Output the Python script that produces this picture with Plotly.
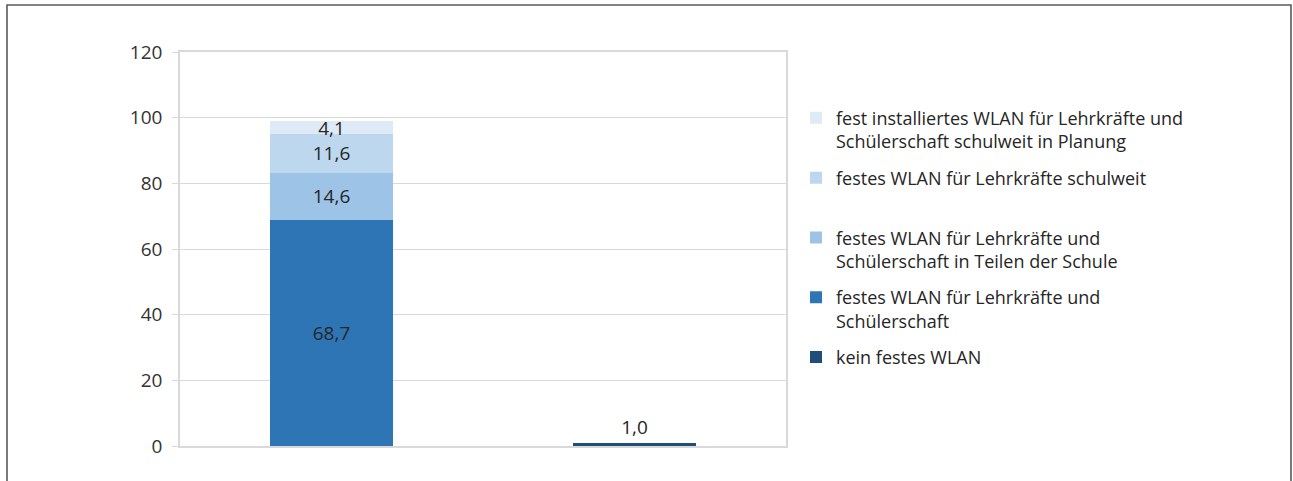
import plotly.graph_objects as go

# Two columns: schools with some form of fixed WLAN, and schools without it
categories = ["mit festem WLAN", "ohne festes WLAN"]

series_names = [
    "kein festes WLAN",
    "festes WLAN für Lehrkräfte und<br>Schülerschaft",
    "festes WLAN für Lehrkräfte und<br>Schülerschaft in Teilen der Schule",
    "festes WLAN für Lehrkräfte schulweit<br> ",
    "fest installiertes WLAN für Lehrkräfte und<br>Schülerschaft schulweit in Planung",
]
kein_festes = [None, 1.0]
lehrkraefte_schuelerschaft = [68.7, None]
teile_der_schule = [14.6, None]
lehrkraefte_schulweit = [11.6, None]
in_planung = [4.1, None]

series_values = [
    kein_festes,
    lehrkraefte_schuelerschaft,
    teile_der_schule,
    lehrkraefte_schulweit,
    in_planung,
]
colors = ["#1F4E79", "#2E75B6", "#9DC3E6", "#BDD7EE", "#DEEBF7"]
text_positions = ["outside", "inside", "inside", "inside", "inside"]
legend_ranks = [5, 4, 3, 2, 1]

y_ticks = [0, 20, 40, 60, 80, 100, 120]

label_font = dict(family="Open Sans, sans-serif", size=19, color="#262626")

fig = go.Figure()
for i, (name, vals, col, pos, rank) in enumerate(
        zip(series_names, series_values, colors, text_positions, legend_ranks)):
    fig.add_trace(go.Bar(
        x=categories,
        y=vals,
        name=name,
        legendgroup=f"g{i}",
        legendrank=rank,
        marker=dict(color=col, line=dict(width=0)),
        texttemplate="%{y:.1f}",
        textposition=pos,
        insidetextanchor="middle",
        constraintext="none",
        cliponaxis=False,
        textfont=label_font,
        insidetextfont=label_font,
        outsidetextfont=label_font,
        hoverinfo="skip",
    ))

# outer frame around the chart (open at the bottom)
L, R, T, B = -0.2855, 1.8333, 1.1193, -0.12
fig.add_shape(
    type="path", xref="paper", yref="paper",
    path=f"M {L},{B} L {L},{T} L {R},{T} L {R},{B}",
    line=dict(color="#595959", width=1.6),
)

fig.update_layout(
    width=1293, height=481,
    barmode="stack",
    bargap=0.597,
    separators=",.",
    paper_bgcolor="white",
    plot_bgcolor="white",
    margin=dict(l=180, r=507, t=52, b=35),
    showlegend=True,
    legend=dict(
        x=1.0165, xanchor="left", y=0.879, yanchor="top",
        traceorder="grouped",
        tracegroupgap=10,
        valign="top",
        font=dict(family="Open Sans, sans-serif", size=18, color="#262626"),
        bgcolor="rgba(0,0,0,0)",
    ),
    xaxis=dict(
        showticklabels=False,
        showgrid=False,
        showline=True,
        mirror=True,
        linecolor="#D9D9D9",
        linewidth=1.5,
        ticks="",
        zeroline=False,
    ),
    yaxis=dict(
        range=[0, 120],
        tickvals=y_ticks,
        ticktext=[str(v) for v in y_ticks],
        showgrid=True,
        gridcolor="#D9D9D9",
        gridwidth=1,
        showline=True,
        mirror=True,
        linecolor="#D9D9D9",
        linewidth=1.5,
        ticks="outside",
        ticklen=6,
        tickcolor="#D9D9D9",
        ticklabelstandoff=6,
        tickfont=dict(family="Open Sans, sans-serif", size=19, color="#333333"),
        zeroline=False,
    ),
)

fig.write_html("out.html")
